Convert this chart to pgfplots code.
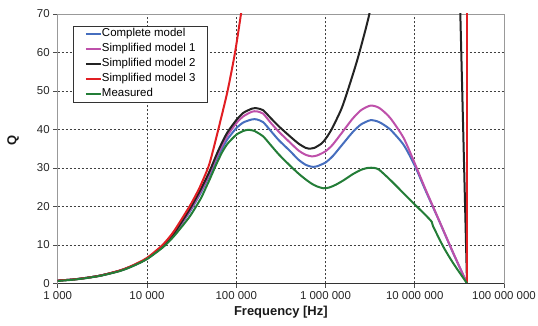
\documentclass[border=0pt]{standalone}
\usepackage{fontspec}
\setmainfont{Liberation Sans}
\usepackage{pgfplots}
\pgfplotsset{compat=1.18}
\definecolor{cblue}{RGB}{70,110,190}
\definecolor{cmag}{RGB}{190,80,170}
\definecolor{cblack}{RGB}{35,35,35}
\definecolor{cred}{RGB}{225,30,35}
\definecolor{cgreen}{RGB}{35,125,55}

\begin{document}
\begin{tikzpicture}[x=1bp,y=1bp]
\useasboundingbox (-57.7,-41.7) rectangle (480.3,283.3);
\begin{axis}[at={(0,0)}, anchor=south west, scale only axis,
  width=446.3bp, height=269.3bp,
  xmode=log, log basis x=10, xmin=1000, xmax=1e8, ymin=0, ymax=70,
  xtick={1000,10000,100000,1000000,10000000,100000000},
  xticklabels={1\ 000,10\ 000,100\ 000,1\ 000\ 000,10\ 000\ 000,100\ 000\ 000},
  ytick={0,10,20,30,40,50,60,70},
  xminorticks=false, yminorticks=false,
  /pgf/number format/assume math mode=true,
  grid=major,
  major grid style={dash pattern=on 2.5bp off 1.5bp, black!75, line width=0.6bp},
  tick align=outside, xtick pos=left, ytick pos=left,
  major tick length=4.5bp,
  tick style={black!70, line width=0.6bp},
  axis line style={black!40, line width=0.8bp},
  ticklabel style={font=\fontsize{11.5}{13}\selectfont, text=black!85},
  xlabel={\textbf{Frequency [Hz]}}, ylabel={\textbf{Q}},
  label style={font=\fontsize{13}{15}\selectfont, text=black!90},
  ylabel style={at={(axis description cs:-0.1,0.53)}, anchor=center},
  legend style={at={(axis description cs:0.0336,0.9566)}, anchor=north west,
    draw=black!80, line width=0.6bp, fill=white,
    font=\fontsize{11.5}{13}\selectfont,
    inner xsep=12bp, inner ysep=2bp, row sep=3bp,
    nodes={inner sep=0bp, text height=9bp, text depth=3bp},
    cells={anchor=west}},
  legend image code/.code={\draw[#1, line width=2bp] (0bp,0bp) -- (15bp,0bp);},
  every axis plot/.append style={line width=2bp},
]
\addplot[cblue, smooth, tension=0.4] table {
1000 0.7
1500 1.0
2000 1.35
3000 2.0
5000 3.3
7000 4.6
10000 6.4
15000 9.6
20000 12.7
30000 18.5
40000 23.5
50000 28.0
60000 32.2
70000 35.2
80000 37.5
100000 40.3
120000 41.8
150000 42.6
170000 42.6
200000 41.9
240000 39.8
300000 37.2
400000 34.4
500000 32.1
600000 30.8
700000 30.3
800000 30.4
1000000 31.4
1200000 33.0
1500000 35.7
2000000 39.2
2500000 41.3
3200000 42.4
4000000 41.9
5300000 40.0
7500000 36.0
10000000 30.6
13000000 24.5
18300000 16.8
27000000 7.8
38500000 0
};
\addlegendentry{Complete model}
\addplot[cmag, smooth, tension=0.4] table {
1000 0.7
1500 1.0
2000 1.35
3000 2.0
5000 3.3
7000 4.6
10000 6.4
15000 9.6
20000 12.8
30000 18.8
40000 23.9
50000 28.5
60000 32.8
70000 36.0
80000 38.5
100000 41.6
120000 43.4
150000 44.6
170000 44.7
200000 44.1
240000 41.9
300000 39.4
400000 36.6
500000 34.5
600000 33.4
700000 33.0
800000 33.2
1000000 34.3
1200000 36.0
1500000 38.9
2000000 42.7
2500000 45.0
3200000 46.2
4000000 45.6
5300000 43.0
7500000 37.8
10000000 31.2
13000000 24.8
18300000 16.9
27000000 7.9
38500000 0
};
\addlegendentry{Simplified model 1}
\addplot[cblack, smooth, tension=0.4] table {
1000 0.7
1500 1.0
2000 1.35
3000 2.0
5000 3.3
7000 4.6
10000 6.4
15000 9.6
20000 12.9
30000 19.2
40000 24.4
50000 29.0
60000 33.4
70000 36.8
80000 39.3
100000 42.4
120000 44.3
150000 45.4
170000 45.5
200000 45.0
240000 43.1
300000 40.8
400000 38.2
500000 36.3
600000 35.2
650000 35.0
750000 35.2
900000 36.3
1000000 37.5
1170000 40.0
1500000 45.2
1770000 50.0
2300000 58.5
3100000 70.0
4000000 84
};
\addlegendentry{Simplified model 2}
\addplot[cblack, forget plot] table {
31000000 90
32400000 70
38500000 0
};
\addplot[cred, smooth, tension=0.4] table {
1000 0.7
1500 1.0
2000 1.35
3000 2.0
5000 3.35
7000 4.7
10000 6.6
15000 10.0
20000 13.5
30000 20.0
35000 22.8
40000 25.5
50000 31.0
63000 40.0
80000 50.0
97000 60.0
113000 70.0
130000 80.0
};
\addlegendentry{Simplified model 3}
\addplot[cred, forget plot] table {
38500000 80
38500000 0
};
\addplot[cgreen, smooth, tension=0.4] table {
1000 0.6
1500 0.95
2000 1.3
3000 1.95
5000 3.2
7000 4.5
10000 6.3
15000 9.3
20000 12.2
30000 17.3
40000 22.0
46000 25.0
50000 26.8
60000 31.0
70000 34.2
80000 36.3
100000 38.6
120000 39.6
137000 39.9
160000 39.6
200000 38.2
240000 36.1
300000 33.5
400000 30.6
500000 28.5
600000 27.0
700000 25.9
800000 25.2
950000 24.7
1100000 24.9
1300000 25.6
1600000 26.8
2000000 28.3
2500000 29.5
3000000 30.0
3500000 30.0
4000000 29.5
5300000 26.9
7500000 23.4
10200000 20.3
13000000 17.9
15500000 16.0
16000000 14.9
20900000 9.5
27000000 5.2
38500000 0
};
\addlegendentry{Measured}
\draw[black!80, line width=0.8bp] (rel axis cs:0,0) -- (rel axis cs:1,0);
\end{axis}
\end{tikzpicture}
\end{document}
